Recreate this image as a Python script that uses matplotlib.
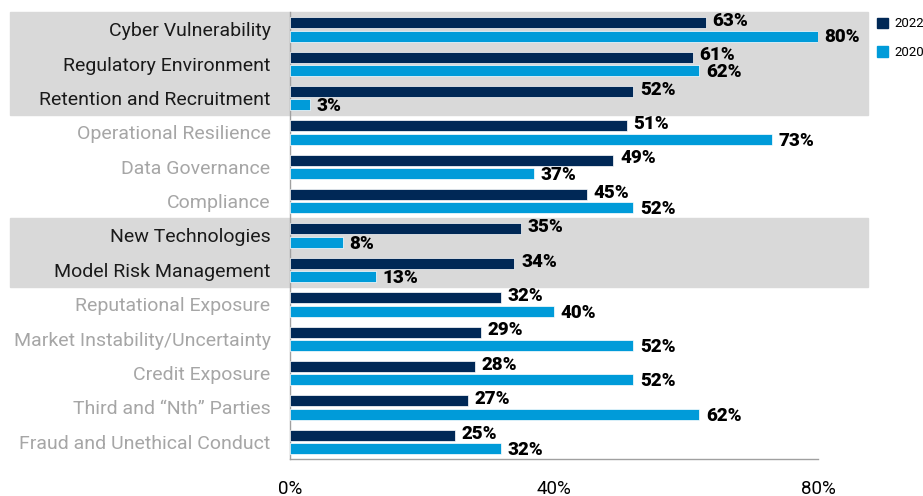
import matplotlib.pyplot as plt
from matplotlib.patches import Patch

categories = ['Cyber Vulnerability', 'Regulatory Environment', 'Retention and Recruitment',
              'Operational Resilience', 'Data Governance', 'Compliance', 'New Technologies',
              'Model Risk Management', 'Reputational Exposure', 'Market Instability/Uncertainty',
              'Credit Exposure', 'Third and \u201cNth\u201d Parties', 'Fraud and Unethical Conduct']
v2022 = [63, 61, 52, 51, 49, 45, 35, 34, 32, 29, 28, 27, 25]
v2020 = [80, 62, 3, 73, 37, 52, 8, 13, 40, 52, 52, 62, 32]
highlight = [0, 1, 2, 6, 7]
xticks = [0, 40, 80]

navy = '#002856'
blue = '#009bd9'

plt.rcParams['font.family'] = ['Roboto', 'DejaVu Sans']

fig = plt.figure(figsize=(9.23, 4.96), dpi=100)
ax = fig.add_axes([290 / 923, 1 - 459 / 496, 528 / 923, 447 / 496])

n = len(categories)
y = list(range(n))
h = 0.32
ax.barh([i - 0.19 for i in y], v2022, height=h, color=navy, edgecolor='white', lw=0.5, zorder=3)
ax.barh([i + 0.20 for i in y], v2020, height=h, color=blue, edgecolor='white', lw=0.5, zorder=3)

for i in y:
    ax.text(v2022[i] + 1.0, i - 0.24, f'{v2022[i]}%', va='center', ha='left',
            fontsize=13.5, fontweight='heavy', color='black', zorder=4)
    ax.text(v2020[i] + 1.0, i + 0.24, f'{v2020[i]}%', va='center', ha='left',
            fontsize=13.5, fontweight='heavy', color='black', zorder=4)

# gray bands behind highlighted rows
for i in highlight:
    r = ax.axhspan(i - 0.5, i + 0.5, xmin=-0.53, xmax=1.095, color='#d9d9d9', zorder=0)
    r.set_clip_on(False)

ax.set_ylim(n - 0.5, -0.5)
ax.set_xlim(0, 80)
ax.set_yticks(y)
ax.set_yticklabels(categories, fontsize=14)
for i, lab in enumerate(ax.get_yticklabels()):
    lab.set_color('#1a1a1a' if i in highlight else '#a6a6a6')
ax.set_xticks(xticks)
ax.set_xticklabels([f'{t}%' for t in xticks], fontsize=13.5)
ax.tick_params(axis='both', length=0)
ax.tick_params(axis='x', pad=15)
ax.tick_params(axis='y', pad=14)

for s in ['top', 'right']:
    ax.spines[s].set_visible(False)
for s in ['left', 'bottom']:
    ax.spines[s].set_color('#a0a0a0')
    ax.spines[s].set_linewidth(1)
ax.set_facecolor('none')

handles = [Patch(color=navy, label='2022'), Patch(color=blue, label='2020')]
fig.legend(handles=handles, loc='upper left', bbox_to_anchor=(872 / 923, 1 - 12 / 496),
           frameon=False, fontsize=9.5, handlelength=0.8, handleheight=0.8,
           handletextpad=0.5, labelspacing=1.2, borderaxespad=0)

fig.savefig('out.png', dpi=100)
